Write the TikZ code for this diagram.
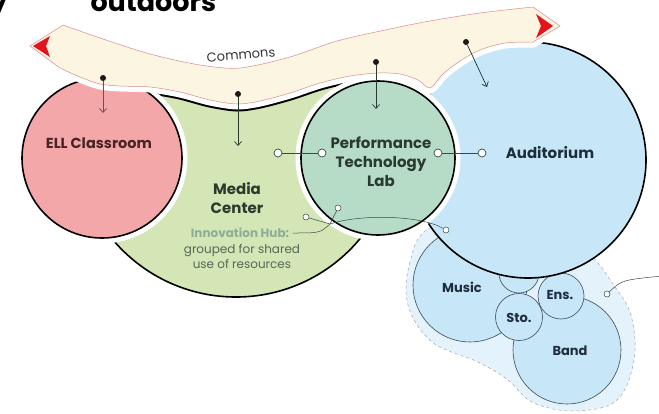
\documentclass[tikz,border=0pt]{standalone}
\usepackage{fontspec}
\setmainfont{Poppins}
\usetikzlibrary{arrows.meta}
\definecolor{ellpink}{HTML}{F4A7A9}
\definecolor{mediagreen}{HTML}{D4E6B5}
\definecolor{labgreen}{HTML}{B6DCC8}
\definecolor{audblue}{HTML}{C7E7F8}
\definecolor{musicbg}{HTML}{E4F2FB}
\definecolor{ribboncream}{HTML}{FBF5E1}
\definecolor{ribbonedge}{HTML}{D98C8C}
\definecolor{tipred}{HTML}{E3141B}
\definecolor{elltext}{HTML}{4A2327}
\definecolor{greentext}{HTML}{2B3A2E}
\definecolor{bluetext}{HTML}{1F2E3D}
\definecolor{hubgreen}{HTML}{8DAE96}
\definecolor{hubgray}{HTML}{56665A}
\definecolor{linkgray}{HTML}{3C4A40}
\definecolor{musicline}{HTML}{3A4A5A}
\tikzset{
  room/.style={draw=black,line width=1.6pt,preaction={draw=white,line width=11pt}},
  practice/.style={draw=musicline,line width=0.6pt,fill=audblue},
  dot/.style={circle,fill=black!90,inner sep=0pt,minimum size=6pt},
  port/.style={circle,draw=linkgray,fill=white,line width=0.7pt,inner sep=0pt,minimum size=8pt},
  smallport/.style={port,minimum size=6pt,line width=0.5pt},
  feed/.style={-{Straight Barb[length=4pt,width=7pt]},line width=0.7pt},
  link/.style={line width=0.8pt,draw=linkgray},
  hubline/.style={line width=0.5pt,draw=linkgray},
  roomlabel/.style={font=\bfseries\fontsize{15}{19}\selectfont,align=center},
  musiclabel/.style={font=\bfseries\fontsize{13}{15}\selectfont,text=bluetext}
}
% outline of the commons ribbon
\newcommand\commonsribbon{(30,46) -- (63,25) -- plot[smooth] coordinates {(63,25) (100,38) (150,54) (200,65) (240,68) (290,57) (337,41) (390,29) (430,21) (480,13) (533,7)} -- (560,26) -- (533,42) -- plot[smooth] coordinates {(533,42) (505,43) (480,50) (460,61) (443,74) (430,88) (418,80) (400,74) (378,73) (350,76) (320,83) (290,93) (260,101) (237,104) (210,100) (180,92) (150,87) (120,86) (100,84) (80,77) (60,68)} -- cycle}
% part of the page below the commons
\newcommand\belowcommons{(100,75) -- (240,85) -- (420,60) -- (420,320) -- (100,320) -- cycle}
\begin{document}
\begin{tikzpicture}[x=1pt,y=-1pt]
  \useasboundingbox (0,0) rectangle (659,413);
  % room centres
  \coordinate (ell) at (102,158);
  \coordinate (media) at (236,136);
  \coordinate (lab) at (378,158);
  \coordinate (aud) at (528,160);
  % draw music wing
  \draw[fill=musicbg,draw=gray!70,dashed,line width=0.5pt] plot[smooth cycle,tension=0.6] coordinates {(430,228) (410,262) (408,305) (432,342) (478,362) (508,380) (532,402) (572,411) (616,401) (634,360) (631,315) (613,284) (592,256) (565,232) (500,215)};
  \filldraw[practice] (470,285) circle[radius=57pt];
  \filldraw[practice] (567,350) circle[radius=54pt];
  \filldraw[practice] (519,273) circle[radius=20pt];
  \filldraw[practice] (561,296) circle[radius=23pt];
  \filldraw[practice] (519,317) circle[radius=23.5pt];
  \node at(462,287)[musiclabel](music){Music};
  \node at(560,295)[musiclabel](ens){Ens.};
  \node at(519,318)[musiclabel](sto){Sto.};
  \node at(570,351)[musiclabel](band){Band};
  % draw auditorium
  \filldraw[fill=audblue,draw=black,line width=1.6pt] (aud) circle[radius=118pt];
  % draw media center
  \begin{scope}
    \clip \belowcommons;
    \filldraw[fill=mediagreen,draw=black,line width=1.6pt] (media) circle[radius=161pt];
    \clip (media) circle[radius=161pt];
    \draw[line width=15pt,draw=black] \commonsribbon;
  \end{scope}
  % draw ELL classroom and lab
  \filldraw[room,fill=ellpink] (ell) circle[radius=80pt];
  \filldraw[room,fill=labgreen] (lab) circle[radius=77pt];
  % draw commons
  \filldraw[fill=ribboncream,draw=ribbonedge,line width=0.5pt,preaction={draw=white,line width=11pt}] \commonsribbon;
  \fill[tipred] (33,46) -- (50,36) -- (46,46) -- (50,57) -- cycle;
  \fill[tipred] (553,26) -- (536,14) -- (541,26) -- (536,38) -- cycle;
  \node at(241,55)[rotate=5,font=\fontsize{13}{13}\selectfont,text=black!80](commons){Commons};
  % draw cut-off heading
  \node at(87,11)[anchor=base west,font=\bfseries\fontsize{27}{27}\selectfont](outdoors){outdoors};
  \node at(11,11)[anchor=base east,font=\bfseries\fontsize{27}{27}\selectfont](cuty){y};
  % draw arrows from commons
  \node at(103,78)[dot](elldot){};
  \coordinate (elltip) at (103,113);
  \draw[feed,draw=elltext!80] (elldot) -- (elltip);
  \node at(238,94)[dot](mediadot){};
  \coordinate (mediatip) at (238,146);
  \draw[feed,draw=greentext] (mediadot) -- (mediatip);
  \node at(376,62)[dot](labdot){};
  \coordinate (labtip) at (376,109);
  \draw[feed,draw=greentext] (labdot) -- (labtip);
  \node at(466,42)[dot](auddot){};
  \coordinate (audtip) at (487,87);
  \draw[feed,draw=bluetext] (auddot) -- (audtip);
  % draw room labels
  \node at(99,143)[roomlabel,font=\bfseries\fontsize{14.5}{19}\selectfont,text=elltext](elllabel){ELL Classroom};
  \node at(237,198)[roomlabel,text=greentext](medialabel){Media\\Center};
  \node at(381,162)[roomlabel,text=greentext](lablabel){Performance\\Technology\\Lab};
  \node at(550,153)[roomlabel,text=bluetext](audlabel){Auditorium};
  % draw innovation hub note
  \node at(240,233)[font=\bfseries\fontsize{12}{15}\selectfont,text=hubgreen](hubtitle){Innovation Hub:};
  \node at(242,256)[font=\fontsize{12}{15}\selectfont,text=hubgray,align=center](hubnote){grouped for shared\\use of resources};
  \coordinate (hubjoin) at (330,224);
  \node at(306,217)[smallport](hubleft){};
  \node at(338,208)[smallport](hubup){};
  \node at(446,230)[smallport](hubend){};
  \draw[hubline] (hubtitle.east) .. controls (320,233) .. (hubjoin);
  \draw[hubline] (hubjoin) -- (hubleft);
  \draw[hubline] (hubjoin) -- (hubup);
  \draw[hubline] (hubjoin) .. controls (360,214) and (420,215) .. (hubend);
  % draw links between rooms
  \node at(278,153)[port](mediaport){};
  \node at(322,153)[port](labwest){};
  \draw[link] (mediaport) -- (labwest);
  \node at(438,153)[port](labeast){};
  \node at(482,153)[port](audport){};
  \draw[link] (labeast) -- (audport);
  % draw leader off the music wing
  \node at(607,294)[smallport](wingport){};
  \coordinate (wingend) at (662,276);
  \draw[hubline] (wingport) .. controls (622,280) .. (wingend);
\end{tikzpicture}
\end{document}
